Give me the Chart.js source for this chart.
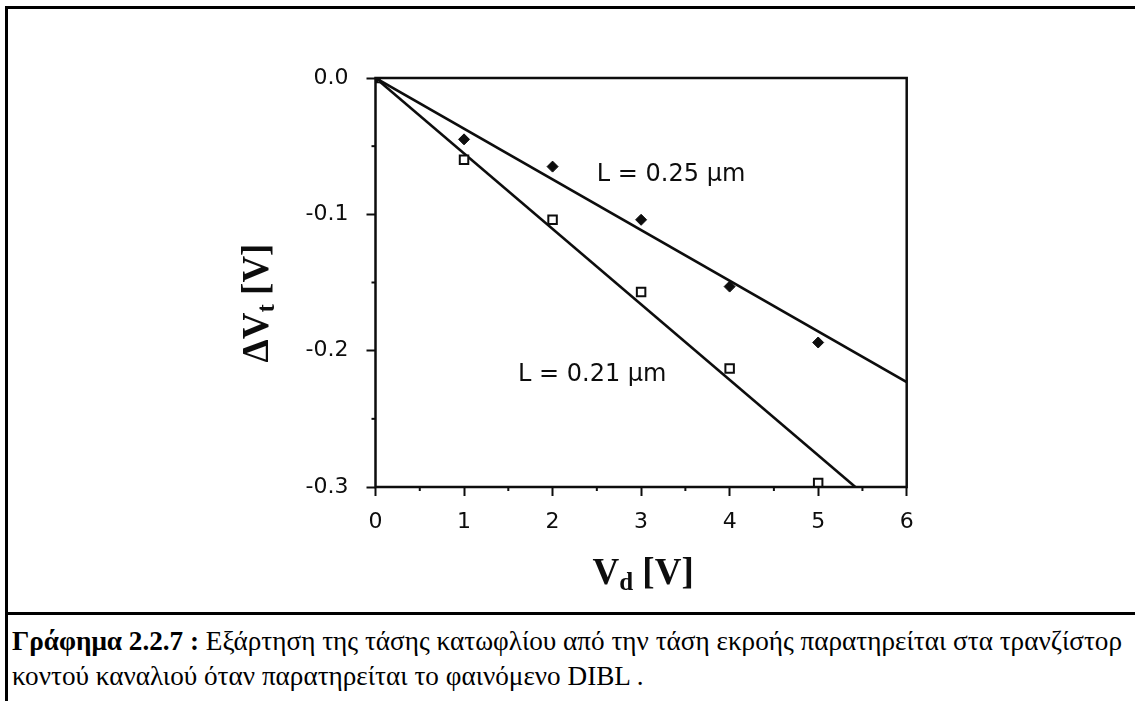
<!DOCTYPE html>
<html>
<head>
<meta charset="utf-8">
<title>ΔVt – Vd (DIBL)</title>
<script src="https://cdn.jsdelivr.net/npm/chart.js@4.4.1/dist/chart.umd.min.js"></script>
<style>
  html, body { margin: 0; padding: 0; background: #fff; width: 1135px; height: 701px; overflow: hidden; }
  #frame { position: absolute; left: 5px; top: 6px; width: 1200px; height: 800px;
           border-left: 3px solid #000; border-top: 3px solid #000; box-sizing: border-box; }
  #sep { position: absolute; left: 5px; top: 612px; width: 1200px; height: 3px; background: #000; }
  #chart { position: absolute; left: 0; top: 0; }
  #caption { position: absolute; left: 12px; top: 624px; width: 1123px;
             font-family: "Liberation Serif", "Times New Roman", serif; font-size: 27.2px;
             line-height: 35px; color: #000; }
  #caption div { white-space: nowrap; }
</style>
</head>
<body>
<div id="frame"></div>
<canvas id="chart" width="1135" height="612"></canvas>
<div id="sep"></div>
<div id="caption">
  <div><b>Γράφημα 2.2.7 :</b> Εξάρτηση της τάσης κατωφλίου από την τάση εκροής παρατηρείται στα τρανζίστορ</div>
  <div>κοντού καναλιού όταν παρατηρείται το φαινόμενο DIBL .</div>
</div>
<script>
// Drain voltage Vd [V] and threshold shift ΔVt [V] for two channel lengths
const vd = [0, 1, 2, 3, 4, 5];
const dVt025 = [0, -0.045, -0.065, -0.104, -0.153, -0.194];
const dVt021 = [0, -0.060, -0.104, -0.157, -0.213, -0.297];

// Straight-line fits (end points of each fitted line)
const fitVd025 = [0, 6];
const fitVt025 = [0, -0.223];
const fitVd021 = [0, 5.42];
const fitVt021 = [0, -0.30];

// Axis ticks
const xTickValues = [0, 1, 2, 3, 4, 5, 6];
const xTickLabels = ['0', '1', '2', '3', '4', '5', '6'];
const yTickValues = [-0.3, -0.2, -0.1, 0.0];
const yTickLabels = ['-0.3', '-0.2', '-0.1', '0.0'];
const xMinorTicks = [0.5, 1.5, 2.5, 3.5, 4.5, 5.5];
const yMinorTicks = [-0.05, -0.15, -0.25];

const seriesNames = ['L = 0.25 µm', 'L = 0.21 µm'];

const toPoints = (xs, ys) => xs.map((v, i) => ({ x: v, y: ys[i] }));

const INK = '#0d0d0d';
const tickFont = { family: '"DejaVu Sans", sans-serif', size: 22 };

// Axis titles with subscripts, in-plot curve labels, box frame and minor ticks
function drawRich(ctx, parts, cx, cy) {
  let total = 0;
  parts.forEach(p => { ctx.font = p.font; p.w = ctx.measureText(p.t).width; total += p.w; });
  let xPos = cx - total / 2;
  parts.forEach(p => {
    ctx.font = p.font;
    ctx.fillText(p.t, xPos, cy + (p.dy || 0));
    xPos += p.w;
  });
}

const decorations = {
  id: 'decorations',
  afterDatasetsDraw(chart) {
    const { ctx, chartArea: a, scales: { x, y } } = chart;
    ctx.save();
    ctx.strokeStyle = INK;
    ctx.fillStyle = INK;
    ctx.lineWidth = 2.5;
    ctx.strokeRect(a.left, a.top, a.right - a.left, a.bottom - a.top);

    ctx.lineWidth = 2;
    xMinorTicks.forEach(v => {
      const px = x.getPixelForValue(v);
      ctx.beginPath(); ctx.moveTo(px, a.bottom); ctx.lineTo(px, a.bottom + 4); ctx.stroke();
    });
    yMinorTicks.forEach(v => {
      const py = y.getPixelForValue(v);
      ctx.beginPath(); ctx.moveTo(a.left, py); ctx.lineTo(a.left - 4, py); ctx.stroke();
    });

    // curve labels
    ctx.font = '24px "DejaVu Sans", sans-serif';
    ctx.textAlign = 'left';
    ctx.textBaseline = 'middle';
    ctx.fillText(seriesNames[0], x.getPixelForValue(2.50), y.getPixelForValue(-0.0712));
    ctx.fillText(seriesNames[1], x.getPixelForValue(1.61), y.getPixelForValue(-0.218));

    // axis titles
    ctx.textAlign = 'left';
    ctx.textBaseline = 'alphabetic';
    const big = 'bold 37px "Liberation Serif", serif';
    const small = 'bold 25px "Liberation Serif", serif';
    const midX = (a.left + a.right) / 2;
    drawRich(ctx, [
      { t: 'V', font: big },
      { t: 'd', font: small, dy: 6 },
      { t: ' [V]', font: big }
    ], midX + 2, 584);

    ctx.translate(268, 303);
    ctx.rotate(-Math.PI / 2);
    drawRich(ctx, [
      { t: 'ΔV', font: big },
      { t: 't', font: small, dy: 6 },
      { t: ' [V]', font: big }
    ], 0, 0);
    ctx.restore();
  }
};

new Chart(document.getElementById('chart'), {
  type: 'scatter',
  data: {
    datasets: [
      {
        label: seriesNames[0],
        data: toPoints(vd, dVt025),
        pointStyle: 'rectRot',
        pointRadius: 5.5,
        pointBackgroundColor: INK,
        pointBorderColor: INK,
        pointBorderWidth: 1
      },
      {
        label: seriesNames[1],
        data: toPoints(vd, dVt021),
        pointStyle: 'rect',
        pointRadius: 6,
        pointBackgroundColor: '#fff',
        pointBorderColor: INK,
        pointBorderWidth: 2
      },
      {
        label: seriesNames[0] + ' fit',
        data: toPoints(fitVd025, fitVt025),
        showLine: true,
        borderColor: INK,
        borderWidth: 2.6,
        pointRadius: 0
      },
      {
        label: seriesNames[1] + ' fit',
        data: toPoints(fitVd021, fitVt021),
        showLine: true,
        borderColor: INK,
        borderWidth: 2.6,
        pointRadius: 0
      }
    ]
  },
  options: {
    responsive: false,
    animation: false,
    devicePixelRatio: 1,
    layout: { padding: { left: 295.5, right: 228.3, top: 78, bottom: 65 } },
    plugins: { legend: { display: false }, tooltip: { enabled: false }, title: { display: false } },
    scales: {
      x: {
        type: 'linear',
        min: 0, max: 6,
        afterBuildTicks: s => { s.ticks = xTickValues.map(v => ({ value: v })); },
        afterFit: s => { s.height = 60; },
        ticks: {
          color: INK, font: tickFont, padding: 13, maxRotation: 0,
          callback: (v, i) => xTickLabels[i]
        },
        grid: { drawOnChartArea: false, drawTicks: true, tickLength: 9, tickWidth: 2, tickColor: INK },
        border: { display: false }
      },
      y: {
        type: 'linear',
        min: -0.3, max: 0,
        afterBuildTicks: s => { s.ticks = yTickValues.map(v => ({ value: v })); },
        afterFit: s => { s.width = 80; },
        ticks: {
          color: INK, font: tickFont, padding: 18,
          callback: (v, i) => yTickLabels[i]
        },
        grid: { drawOnChartArea: false, drawTicks: true, tickLength: 9, tickWidth: 2, tickColor: INK },
        border: { display: false }
      }
    }
  },
  plugins: [decorations]
});
</script>
</body>
</html>
